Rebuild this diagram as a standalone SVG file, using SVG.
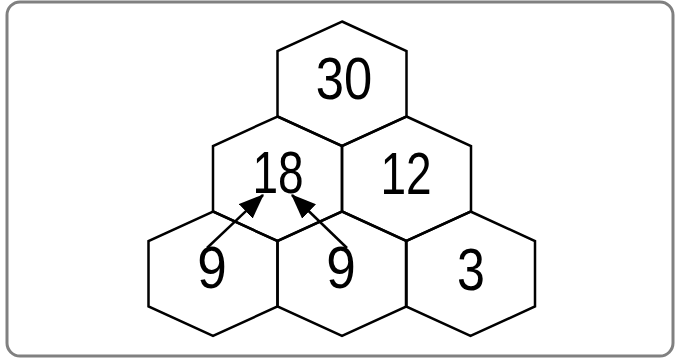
<svg xmlns="http://www.w3.org/2000/svg" width="676" height="360" viewBox="0 0 676 360">
<style>
.hex{fill:none;stroke:#000;stroke-width:2.5;stroke-linejoin:miter}
.num{font-family:"Liberation Sans",Arial,sans-serif;font-size:59px;fill:#000;text-anchor:middle}
.arr{stroke:#000;stroke-width:2.5;fill:none}
</style>
<defs>
<path id="h" d="M0,0 L64.5,29.5 L64.5,95 L0,124.5 L-64.5,95 L-64.5,29.5 Z"/>
<marker id="ah" markerWidth="10" markerHeight="8" refX="9.5" refY="4" orient="auto" markerUnits="strokeWidth">
<path d="M0,0 L10,4 L0,8 Z" fill="#000"/>
</marker>
</defs>
<rect x="7" y="2" width="666" height="354" rx="13" ry="13" fill="none" stroke="#808080" stroke-width="3"/>
<g id="n30"><use href="#h" class="hex" x="342" y="21.5"/><text class="num" transform="translate(344,99) scale(0.86,1)">30</text></g>
<g id="n18"><use href="#h" class="hex" x="277.5" y="116.5"/><text class="num" transform="translate(278,193) scale(0.78,1)">18</text></g>
<g id="n12"><use href="#h" class="hex" x="406.5" y="116.5"/><text class="num" transform="translate(406,194) scale(0.78,1)">12</text></g>
<g id="n9a"><use href="#h" class="hex" x="213" y="211.5"/><text class="num" transform="translate(212,288) scale(0.9,1)">9</text></g>
<g id="n9b"><use href="#h" class="hex" x="342" y="211.5"/><text class="num" transform="translate(341,288) scale(0.9,1)">9</text></g>
<g id="n3"><use href="#h" class="hex" x="470.5" y="211.5"/><text class="num" transform="translate(471,290) scale(0.85,1)">3</text></g>
<g id="connectors">
<line class="arr" x1="207" y1="248" x2="263" y2="195" marker-end="url(#ah)"/>
<line class="arr" x1="347" y1="248" x2="292" y2="195" marker-end="url(#ah)"/>
</g>
</svg>
